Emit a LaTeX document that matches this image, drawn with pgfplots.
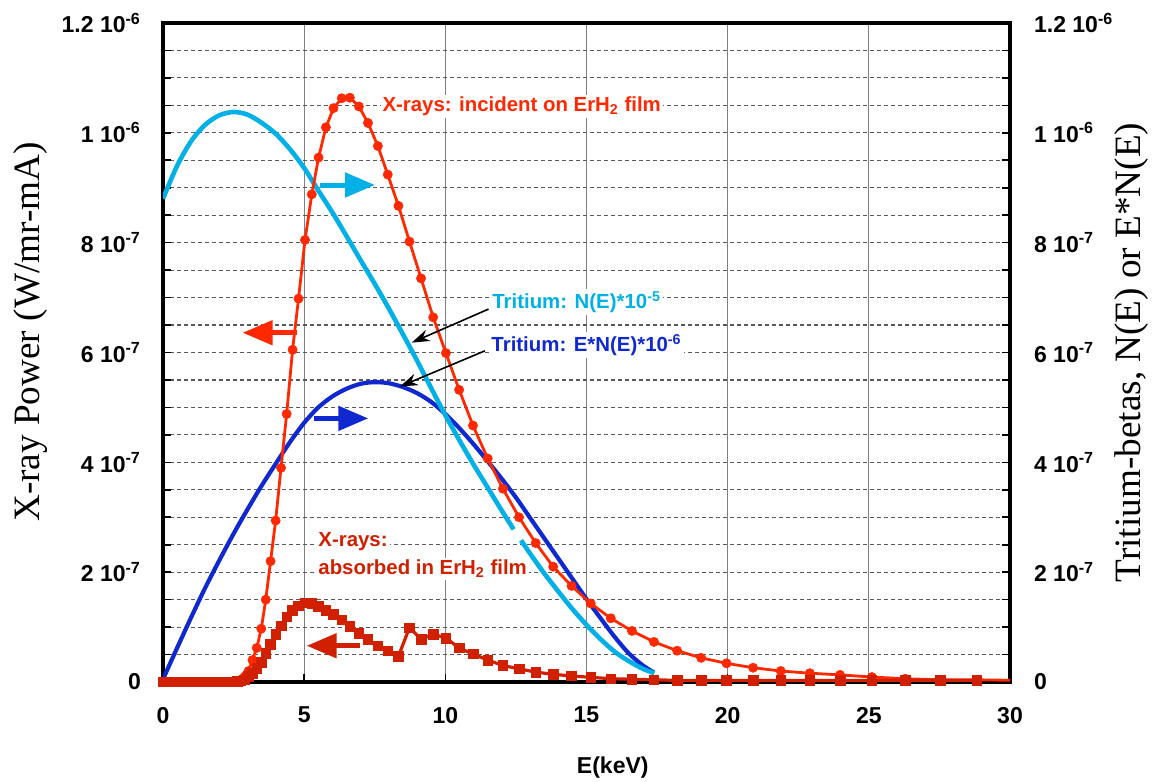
\documentclass[border=0pt]{standalone}
\usepackage{fontspec}
\setmainfont{Liberation Sans}
\newfontfamily\serifface{Liberation Serif}
\usepackage{pgfplots}
\pgfplotsset{compat=1.18}
\usetikzlibrary{arrows.meta}

\definecolor{cyanline}{RGB}{0,176,230}
\definecolor{blueline}{RGB}{16,40,208}
\definecolor{redline}{RGB}{255,40,0}
\definecolor{darkredline}{RGB}{208,32,0}

% incident x-rays (W/mr-mA, units of 1e-7)
\pgfplotstableread{
E y
0 0
0.1 0
0.2 0
0.3 0
0.4 0
0.5 0
0.6 0
0.7 0
0.8 0
0.9 0
1.0 0
1.1 0
1.2 0
1.3 0
1.4 0
1.5 0
1.6 0
1.7 0
1.8 0
1.9 0
2.0 0
2.1 0
2.2 0
2.3 0
2.4 0
2.52 0
2.64 0.01
2.76 0.04
2.89 0.10
3.03 0.20
3.17 0.40
3.32 0.62
3.48 0.97
3.64 1.50
3.81 2.20
3.99 2.94
4.18 3.90
4.38 4.88
4.59 6.05
4.80 6.98
5.03 8.05
5.27 8.88
5.51 9.55
5.77 10.10
6.04 10.45
6.33 10.63
6.62 10.64
6.94 10.48
7.26 10.18
7.61 9.76
7.96 9.24
8.34 8.67
8.73 8.02
9.14 7.35
9.57 6.64
10.02 5.99
10.49 5.32
10.98 4.67
11.50 4.07
12.04 3.52
12.61 3.00
13.20 2.53
13.82 2.10
14.47 1.75
15.15 1.43
15.86 1.16
16.61 0.93
17.39 0.73
18.21 0.57
19.06 0.44
19.96 0.34
20.90 0.26
21.88 0.20
22.91 0.16
23.98 0.13
25.11 0.09
26.29 0.06
27.53 0.04
28.82 0.04
30.17 0.03
}\incident

% absorbed x-rays
\pgfplotstableread{
E y
0 0
0.1 0
0.2 0
0.3 0
0.4 0
0.5 0
0.6 0
0.7 0
0.8 0
0.9 0
1.0 0
1.1 0
1.2 0
1.3 0
1.4 0
1.5 0
1.6 0
1.7 0
1.8 0
1.9 0
2.0 0
2.1 0
2.2 0
2.3 0
2.4 0
2.52 0
2.64 0.01
2.76 0.02
2.89 0.04
3.03 0.10
3.17 0.16
3.32 0.25
3.48 0.36
3.64 0.52
3.81 0.69
3.99 0.87
4.18 1.02
4.38 1.19
4.59 1.31
4.80 1.39
5.03 1.44
5.27 1.43
5.51 1.38
5.77 1.31
6.04 1.23
6.33 1.13
6.62 1.01
6.94 0.89
7.26 0.78
7.61 0.66
7.96 0.57
8.34 0.47
8.73 0.99
9.14 0.78
9.57 0.87
10.02 0.80
10.49 0.62
10.98 0.51
11.50 0.40
12.04 0.30
12.61 0.24
13.20 0.18
13.82 0.14
14.47 0.11
15.15 0.085
15.86 0.06
16.61 0.05
17.39 0.04
18.21 0.03
19.06 0.03
19.96 0.03
20.90 0.03
21.88 0.03
22.91 0.03
23.98 0.03
25.11 0.03
26.29 0.03
27.53 0.03
28.82 0.03
}\absorbed

% tritium N(E)*1e-5 (two pieces, gap under the label)
\pgfplotstableread{
E y
0 8.80
0.5 9.40
1 9.85
1.5 10.15
2 10.32
2.5 10.38
3 10.33
3.5 10.18
4 9.98
4.5 9.70
5 9.36
5.5 8.95
6 8.55
6.5 8.12
7 7.68
7.5 7.25
8 6.80
8.5 6.33
9 5.85
9.5 5.35
10 4.86
10.5 4.40
11 3.96
11.5 3.54
12 3.12
12.42 2.78
}\neA
\pgfplotstableread{
E y
12.68 2.58
13 2.34
13.5 1.98
14 1.65
14.5 1.33
15 1.04
15.5 0.78
16 0.55
16.5 0.38
17 0.24
17.4 0.16
}\neB

% tritium E*N(E)*1e-6
\pgfplotstableread{
E y
0 0.05
0.5 0.62
1 1.18
1.5 1.72
2 2.22
2.5 2.70
3 3.15
3.5 3.58
4 3.98
4.5 4.37
5 4.72
5.5 5.00
6 5.20
6.5 5.34
7 5.43
7.5 5.46
8 5.44
8.5 5.37
9 5.26
9.5 5.10
10 4.88
10.5 4.62
11 4.33
11.5 4.02
12 3.70
12.5 3.36
13 2.99
13.5 2.62
14 2.25
14.5 1.88
15 1.51
15.5 1.16
16 0.82
16.5 0.52
17 0.30
17.4 0.17
}\ene

\begin{document}
\begin{tikzpicture}
\useasboundingbox (-81.5pt,-50pt) rectangle (494.5pt,341pt);
\pgfplotsset{
  frame/.style={
    at={(0,0)}, anchor=south west,
    scale only axis, width=423.5pt, height=329.5pt,
    xmin=0, xmax=30, ymin=0, ymax=12,
    ytick={0,2,...,12},
    yticklabels={0, 2 10\textsuperscript{-7}, 4 10\textsuperscript{-7}, 6 10\textsuperscript{-7}, 8 10\textsuperscript{-7}, 1 10\textsuperscript{-6}, 1.2 10\textsuperscript{-6}},
    ticklabel style={font=\bfseries\fontsize{11.5}{13}\selectfont},
  }
}
\begin{axis}[
  frame,
  axis line style={line width=2pt},
  xtick={0,5,...,30},
  xticklabels={0,5,10,15,20,25,30},
  xtick pos=bottom,
  ytick pos=both,
  yticklabel pos=left,
  minor y tick num=3,
  tick align=inside,
  major tick length=4pt,
  minor tick length=4pt,
  tick style={black, line width=0.8pt},
  xmajorgrids, ymajorgrids, yminorgrids,
  x grid style={gray, line width=0.6pt, solid},
  y grid style={black!65, line width=0.55pt, dash pattern=on 2pt off 1.5pt},
  yticklabel style={anchor=east, xshift=-7.5pt},
  xticklabel style={yshift=-9pt},
  xlabel={E(keV)},
  xlabel style={font=\bfseries\fontsize{11.5}{13}\selectfont, at={(axis description cs:0.531,-0.130)}, anchor=center},
  ylabel={X-ray Power (W/mr-mA)},
  ylabel style={font=\serifface\fontsize{18.6}{20}\selectfont, at={(axis description cs:-0.156,0.531)}, anchor=center},
]
% labels with white boxes, under the curves
\node[anchor=west, text=redline, fill=white, inner sep=1pt, font=\bfseries\fontsize{10.2}{12}\selectfont]
  at (axis cs:7.69,10.48) {X-rays: incident on ErH\textsubscript{2} film};
\node[anchor=west, text=cyanline, fill=white, inner sep=1pt, font=\bfseries\fontsize{10.2}{12}\selectfont]
  at (axis cs:11.58,6.92) {Tritium: N(E)*10\textsuperscript{-5}};
\node[anchor=west, text=blueline, fill=white, inner sep=1pt, font=\bfseries\fontsize{10.2}{12}\selectfont]
  at (axis cs:11.55,6.14) {Tritium: E*N(E)*10\textsuperscript{-6}};
\node[anchor=west, text=darkredline, fill=white, inner sep=1pt, font=\bfseries\fontsize{10.2}{12}\selectfont]
  at (axis cs:5.42,2.56) {X-rays:};
\node[anchor=west, text=darkredline, fill=white, inner sep=1pt, font=\bfseries\fontsize{10.2}{12}\selectfont]
  at (axis cs:5.42,2.06) {absorbed in ErH\textsubscript{2} film};

\addplot[blueline, line width=2.1pt, smooth] table {\ene};
\addplot[cyanline, line width=2.3pt, smooth] table {\neA};
\addplot[cyanline, line width=2.3pt, smooth] table {\neB};
\addplot[redline, line width=1.4pt, mark=*, mark size=2.3pt,
  mark options={solid, fill=redline, draw=redline, line width=0.3pt}] table {\incident};
\addplot[darkredline, line width=1.6pt, mark=square*, mark size=2.4pt,
  mark options={solid, fill=darkredline, draw=darkredline, line width=0.3pt}] table {\absorbed};

% direction arrows
\draw[cyanline, line width=2.5pt, -{Triangle[length=15pt,width=12pt]}] (axis cs:5.56,9.05) -- (axis cs:7.51,9.05);
\draw[redline, line width=2.5pt, -{Triangle[length=15pt,width=12pt]}] (axis cs:4.74,6.36) -- (axis cs:2.82,6.36);
\draw[blueline, line width=2.5pt, -{Triangle[length=15pt,width=12pt]}] (axis cs:5.35,4.80) -- (axis cs:7.27,4.80);
\draw[darkredline, line width=2.5pt, -{Triangle[length=15pt,width=12pt]}] (axis cs:6.98,0.66) -- (axis cs:5.09,0.66);
% pointer arrows
\draw[black, line width=0.8pt, -{Stealth[length=9pt,width=6pt]}] (axis cs:11.53,6.79) -- (axis cs:8.81,6.18);
\draw[black, line width=0.8pt, -{Stealth[length=9pt,width=6pt]}] (axis cs:11.40,6.03) -- (axis cs:8.39,5.38);
\end{axis}

\begin{axis}[
  frame,
  hide x axis,
  axis y line*=right,
  y axis line style={draw=none},
  major tick length=0pt,
  yticklabel style={anchor=west, xshift=8.5pt},
  ylabel={Tritium-betas, N(E) or E*N(E)},
  ylabel style={font=\serifface\fontsize{18.6}{20}\selectfont, at={(axis description cs:1.143,0.5)}, anchor=center, rotate=0},
]
\addplot[draw=none] coordinates {(0,0)};
\end{axis}
\end{tikzpicture}
\end{document}
